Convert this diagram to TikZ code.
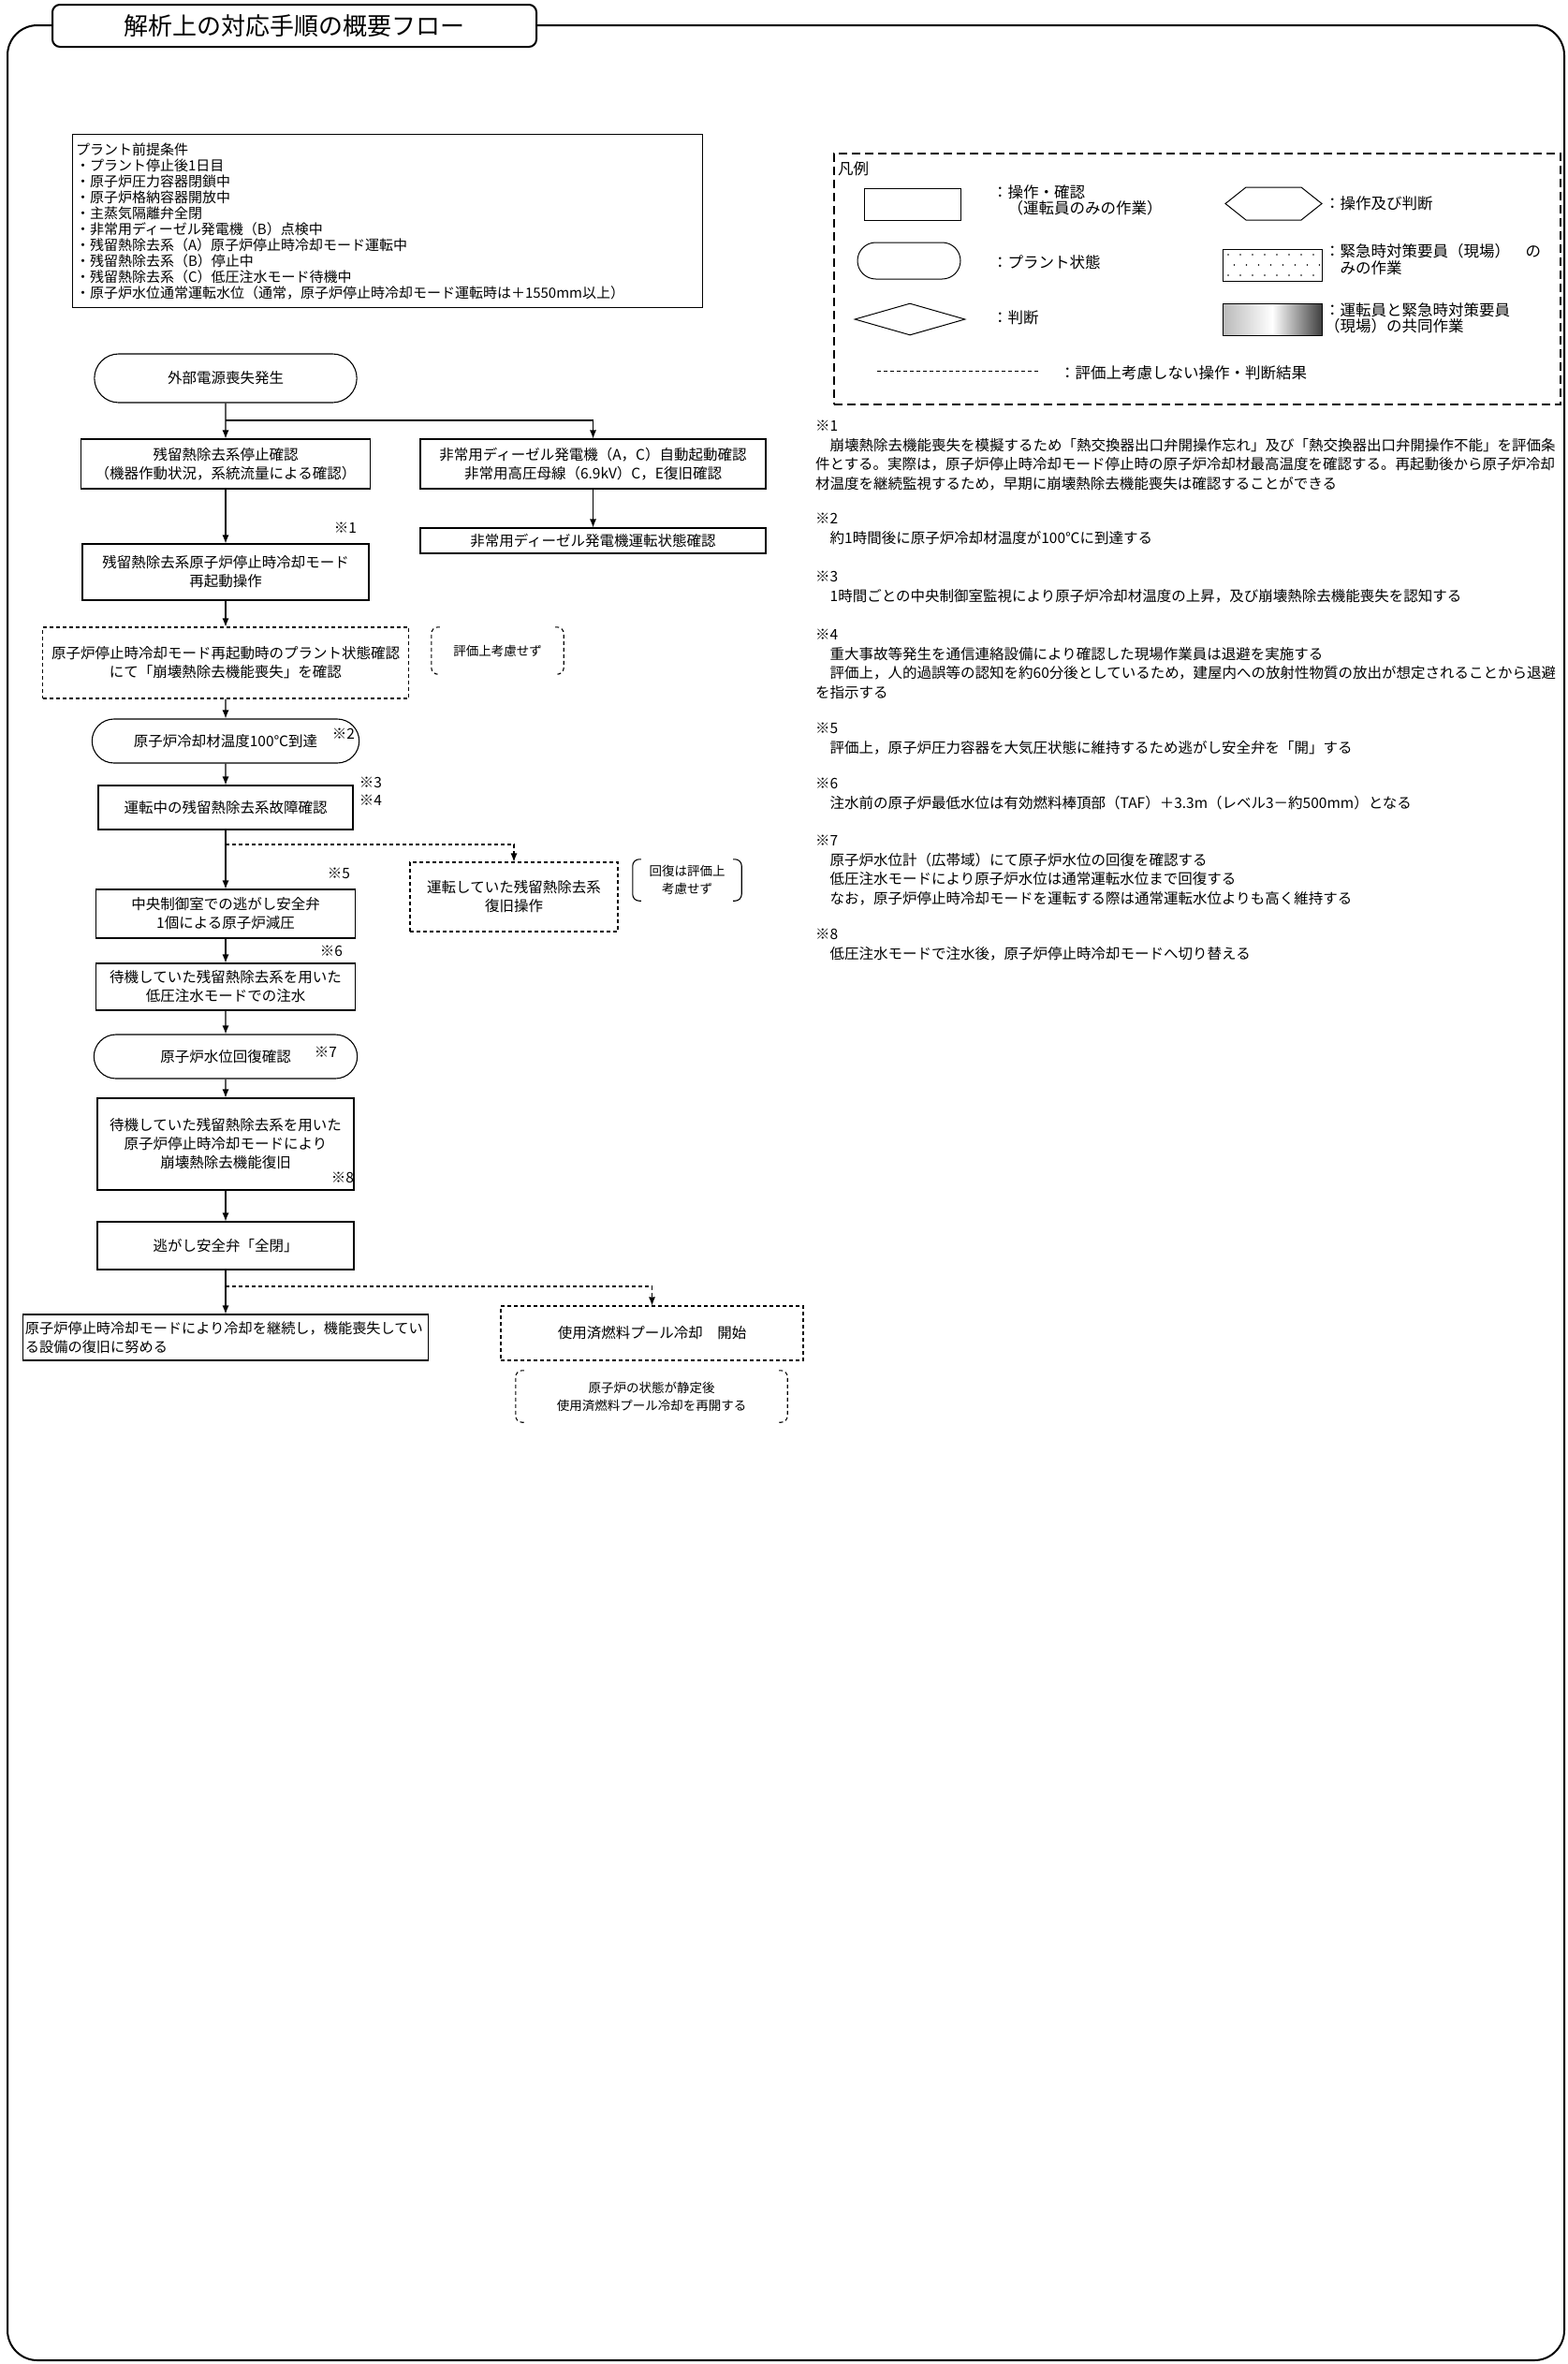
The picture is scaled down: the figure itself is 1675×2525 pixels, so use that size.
\documentclass[tikz,border=0pt]{standalone}
\usepackage{fontspec}
\setmainfont{Noto Sans CJK JP}
\usetikzlibrary{arrows.meta,shapes.geometric,shapes.misc}
\newcommand\fcfont{\fontsize{15.5}{20}\selectfont}
\newcommand\ntfont{\fontsize{15.5}{20.5}\selectfont}
\newcommand\pmfont{\fontsize{15}{17}\selectfont}
\newcommand\lgfont{\fontsize{16.5}{17.5}\selectfont}
\newcommand\smfont{\fontsize{13.5}{19}\selectfont}
\newcommand\ttlfont{\fontsize{26}{30}\selectfont}
\begin{document}
\begin{tikzpicture}[x=1pt,y=-1pt,
	opbox/.style={draw,line width=1.1pt,align=center,font=\fcfont,inner sep=2pt},
	dbox/.style={opbox,dash pattern=on 4pt off 3pt},
	plant/.style={draw,rounded rectangle,line width=1.1pt,align=center,font=\fcfont},
	arr/.style={-{Latex[length=9pt,width=7pt]},line width=1.1pt},
	darr/.style={arr,dash pattern=on 4pt off 3pt},
	kome/.style={font=\fcfont,inner sep=0pt},
	aside/.style={align=center,font=\smfont,inner sep=0pt},
	brk/.style={line width=1.1pt,rounded corners=7pt},
	dbrk/.style={brk,dash pattern=on 4pt off 3pt},
	lgsym/.style={draw,line width=1pt,inner sep=0pt},
	lglabel/.style={anchor=west,align=left,font=\lgfont,inner sep=0pt},
	notes/.style={anchor=north west,align=left,font=\ntfont,inner sep=0pt}]
	\useasboundingbox (0,0) rectangle (1675,2525);
	\draw [line width=2pt,rounded corners=32pt] (8,27) rectangle (1671,2521);
	\node [draw,fill=white,line width=2pt,rounded corners=8pt,minimum width=517pt,minimum height=45pt,font=\ttlfont] at (314.5,27.5) (title) {解析上の対応手順の概要フロー};

	\node [draw,line width=1pt,text width=665pt,inner xsep=4pt,inner ysep=9pt,align=left,font=\pmfont] at (413.5,236) (premise) {プラント前提条件\\・プラント停止後1日目\\・原子炉圧力容器閉鎖中\\・原子炉格納容器開放中\\・主蒸気隔離弁全閉\\・非常用ディーゼル発電機（B）点検中\\・残留熱除去系（A）原子炉停止時冷却モード運転中\\・残留熱除去系（B）停止中\\・残留熱除去系（C）低圧注水モード待機中\\・原子炉水位通常運転水位（通常，原子炉停止時冷却モード運転時は＋1550mm以上）};

	\node [draw,line width=2.5pt,dash pattern=on 9pt off 5pt,minimum width=776pt,minimum height=268pt] at (1279,298) (legend) {};
	\node [lglabel] at (895,180) (lgtitle) {凡例};
	\node [lgsym,minimum width=103pt,minimum height=34pt] at (974.5,218) (lgop) {};
	\node [lglabel] at (1060,214) (lgoptext) {：操作・確認\\　（運転員のみの作業）};
	\draw [line width=1pt] (1309,217.5) -- (1331,200) -- (1390,200) -- (1412,217.5) -- (1390,235) -- (1331,235) -- cycle;
	\node [lglabel] at (1415,217) (lghextext) {：操作及び判断};
	\node [lgsym,rounded rectangle,minimum width=110pt,minimum height=39pt] at (971,278.5) (lgplant) {};
	\node [lglabel] at (1060,280) (lgplanttext) {：プラント状態};
	\node [lgsym,minimum width=106pt,minimum height=34pt] at (1359,283) (lgfield) {};
	\foreach \r in {0,1,2}
		\foreach \c in {0,...,7}
			\fill ({1312+\c*13+mod(\r,2)*6.5},{272+\r*11}) circle (0.9pt);
	\node [lglabel] at (1415,277) (lgfieldtext) {：緊急時対策要員（現場）　の\\　みの作業};
	\node [lgsym,diamond,minimum width=118pt,minimum height=34pt] at (972,341) (lgjudge) {};
	\node [lglabel] at (1060,339) (lgjudgetext) {：判断};
	\node [lgsym,minimum width=106pt,minimum height=34pt,left color=gray!55,right color=black!75,middle color=white] at (1359,341) (lgjoint) {};
	\node [lglabel] at (1415,340) (lgjointtext) {：運転員と緊急時対策要員\\（現場）の共同作業};
	\draw [line width=1pt,dash pattern=on 4pt off 3pt] (937,396) -- (1111,396);
	\node [lglabel] at (1132,398) (lgdashtext) {：評価上考慮しない操作・判断結果};

	\node [plant,minimum width=287pt,minimum height=52pt] at (241,404) (start) {外部電源喪失発生};
	\node [opbox,minimum width=309pt,minimum height=53pt] at (241,495.5) (rhrstop) {残留熱除去系停止確認\\（機器作動状況，系統流量による確認）};
	\node [opbox,minimum width=369pt,minimum height=53pt] at (633.5,495.5) (dgstart) {非常用ディーゼル発電機（A，C）自動起動確認\\非常用高圧母線（6.9kV）C，E復旧確認};
	\node [opbox,minimum width=369pt,minimum height=27pt] at (633.5,577.5) (dgrun) {非常用ディーゼル発電機運転状態確認};
	\node [opbox,minimum width=306pt,minimum height=60pt] at (241,611) (restart) {残留熱除去系原子炉停止時冷却モード\\再起動操作};
	\node [kome] at (369,564) (k1) {※1};
	\node [dbox,minimum width=391pt,minimum height=76pt] at (241,708) (check) {原子炉停止時冷却モード再起動時のプラント状態確認\\にて「崩壊熱除去機能喪失」を確認};
	\node [aside,minimum width=141pt,minimum height=50pt] at (531.5,695) (aside1) {評価上考慮せず};
	\node [plant,minimum width=292pt,minimum height=47pt] at (241,791.5) (temp) {原子炉冷却材温度100℃到達};
	\node [kome] at (367,784) (k2) {※2};
	\node [opbox,minimum width=272pt,minimum height=47pt] at (241,862.5) (fail) {運転中の残留熱除去系故障確認};
	\node [kome] at (396,836) (k3) {※3};
	\node [kome] at (396,855) (k4) {※4};
	\node [opbox,minimum width=277pt,minimum height=52pt] at (241,976) (depress) {中央制御室での逃がし安全弁\\1個による原子炉減圧};
	\node [kome] at (362,933) (k5) {※5};
	\node [dbox,minimum width=222pt,minimum height=74pt] at (549,958) (restore) {運転していた残留熱除去系\\復旧操作};
	\node [aside,minimum width=116pt,minimum height=44pt] at (734,940) (aside2) {回復は評価上\\考慮せず};
	\node [opbox,minimum width=277pt,minimum height=50pt] at (241,1054) (inject) {待機していた残留熱除去系を用いた\\低圧注水モードでの注水};
	\node [kome] at (354,1016) (k6) {※6};
	\node [plant,minimum width=288pt,minimum height=47pt] at (241,1128.5) (level) {原子炉水位回復確認};
	\node [kome] at (348,1124) (k7) {※7};
	\node [opbox,minimum width=274pt,minimum height=98pt] at (241,1222) (shutdown) {待機していた残留熱除去系を用いた\\原子炉停止時冷却モードにより\\崩壊熱除去機能復旧};
	\node [kome] at (366,1258) (k8) {※8};
	\node [opbox,minimum width=274pt,minimum height=51pt] at (241,1330.5) (close) {逃がし安全弁「全閉」};
	\node [opbox,text width=428pt,inner xsep=2.5pt,minimum height=49pt,align=left,font=\fontsize{15.2}{20}\selectfont] at (241,1428.5) (cont) {原子炉停止時冷却モードにより冷却を継続し，機能喪失してい\\る設備の復旧に努める};
	\node [dbox,minimum width=323pt,minimum height=58pt] at (696.5,1424) (pool) {使用済燃料プール冷却　開始};
	\node [aside,minimum width=290pt,minimum height=55pt] at (696,1491.5) (aside3) {原子炉の状態が静定後\\使用済燃料プール冷却を再開する};

	\coordinate (split1) at (241,449);
	\coordinate (split2) at (241,902);
	\coordinate (split3) at (241,1374);
	\draw [arr] (start) -- (rhrstop);
	\draw [arr] (split1) -| (dgstart);
	\draw [arr] (dgstart) -- (dgrun);
	\draw [arr] (rhrstop) -- (restart);
	\draw [arr] (restart) -- (check);
	\draw [arr] (check) -- (temp);
	\draw [arr] (temp) -- (fail);
	\draw [arr] (fail) -- (depress);
	\draw [darr] (split2) -| (restore);
	\draw [arr] (depress) -- (inject);
	\draw [arr] (inject) -- (level);
	\draw [arr] (level) -- (shutdown);
	\draw [arr] (shutdown) -- (close);
	\draw [arr] (close) -- (cont);
	\draw [darr] (split3) -| (pool);

	\foreach \n in {aside1,aside3}{
		\draw [dbrk] ([xshift=9pt]\n.north west) -- (\n.north west) -- (\n.south west) -- ([xshift=9pt]\n.south west);
		\draw [dbrk] ([xshift=-9pt]\n.north east) -- (\n.north east) -- (\n.south east) -- ([xshift=-9pt]\n.south east);
	}
	\draw [brk] ([xshift=9pt]aside2.north west) -- (aside2.north west) -- (aside2.south west) -- ([xshift=9pt]aside2.south west);
	\draw [brk] ([xshift=-9pt]aside2.north east) -- (aside2.north east) -- (aside2.south east) -- ([xshift=-9pt]aside2.south east);

	\node [notes] at (871,449) (note1) {※1\\　崩壊熱除去機能喪失を模擬するため「熱交換器出口弁開操作忘れ」及び「熱交換器出口弁開操作不能」を評価条\\件とする。実際は，原子炉停止時冷却モード停止時の原子炉冷却材最高温度を確認する。再起動後から原子炉冷却\\材温度を継続監視するため，早期に崩壊熱除去機能喪失は確認することができる};
	\node [notes] at (871,548) (note2) {※2\\　約1時間後に原子炉冷却材温度が100℃に到達する};
	\node [notes] at (871,610) (note3) {※3\\　1時間ごとの中央制御室監視により原子炉冷却材温度の上昇，及び崩壊熱除去機能喪失を認知する};
	\node [notes] at (871,672) (note4) {※4\\　重大事故等発生を通信連絡設備により確認した現場作業員は退避を実施する\\　評価上，人的過誤等の認知を約60分後としているため，建屋内への放射性物質の放出が想定されることから退避\\を指示する};
	\node [notes] at (871,772) (note5) {※5\\　評価上，原子炉圧力容器を大気圧状態に維持するため逃がし安全弁を「開」する};
	\node [notes] at (871,831) (note6) {※6\\　注水前の原子炉最低水位は有効燃料棒頂部（TAF）＋3.3m（レベル3－約500mm）となる};
	\node [notes] at (871,892) (note7) {※7\\　原子炉水位計（広帯域）にて原子炉水位の回復を確認する\\　低圧注水モードにより原子炉水位は通常運転水位まで回復する\\　なお，原子炉停止時冷却モードを運転する際は通常運転水位よりも高く維持する};
	\node [notes] at (871,992) (note8) {※8\\　低圧注水モードで注水後，原子炉停止時冷却モードへ切り替える};
\end{tikzpicture}
\end{document}
